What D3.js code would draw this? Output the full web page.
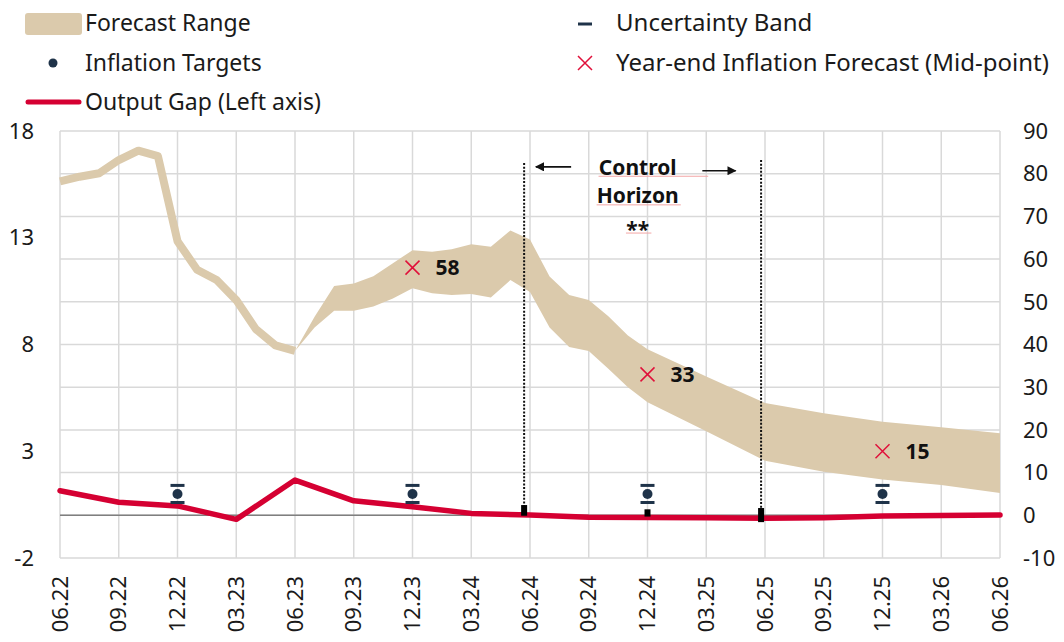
<!DOCTYPE html>
<html lang="en">
<head>
<meta charset="utf-8">
<title>Inflation forecast</title>
<style>
	body { margin: 0; background: #ffffff; }
	svg { display: block; font-family: "Noto Sans", "Open Sans", sans-serif; }
</style>
</head>
<body>
<script src="https://cdn.jsdelivr.net/npm/d3@7"></script>
<script>

	// x positions are months counted from 06.22
	const xTickLabels = ["06.22", "09.22", "12.22", "03.23", "06.23", "09.23", "12.23", "03.24", "06.24",
		"09.24", "12.24", "03.25", "06.25", "09.25", "12.25", "03.26", "06.26"];

	// realised inflation (right axis)
	const actualMonths = [0, 1, 2, 3, 4, 5, 6, 7, 8, 9, 10, 11, 12];
	const actualInflation = [78.2, 79.3, 80.1, 83.2, 85.4, 84.1, 64.2, 57.5, 55.1, 50.4, 43.6, 39.8, 38.5];

	// forecast range (right axis)
	const bandMonths = [12, 13, 14, 15, 16, 17, 18, 19, 20, 21, 22, 23, 24, 25, 26, 27, 28, 29, 30, 33, 36, 39, 42, 45, 48];
	const bandLow = [38.5, 44.0, 47.9, 47.9, 48.9, 50.8, 53.2, 52.0, 51.6, 51.8, 51.0, 55.1, 52.3, 44.0, 39.4, 38.5, 34.3, 30.0, 26.5, 19.7, 12.8, 10.2, 8.4, 7.1, 5.2];
	const bandHigh = [38.5, 46.5, 53.7, 54.3, 56.0, 59.0, 62.1, 61.7, 62.3, 63.5, 62.9, 66.7, 64.6, 55.9, 51.6, 50.4, 46.6, 42.1, 38.9, 32.5, 26.3, 23.9, 21.9, 20.6, 19.2];

	// output gap (left axis)
	const gapMonths = [0, 3, 6, 9, 12, 15, 18, 21, 24, 27, 30, 33, 36, 39, 42, 45, 48];
	const outputGap = [1.15, 0.61, 0.44, -0.19, 1.65, 0.68, 0.40, 0.09, 0.01, -0.09, -0.10, -0.12, -0.14, -0.11, -0.03, -0.01, 0.01];

	// inflation targets with uncertainty band (right axis)
	const targetMonths = [6, 18, 30, 42];
	const targetValue = [5, 5, 5, 5];
	const targetLow = [3, 3, 3, 3];
	const targetHigh = [7, 7, 7, 7];

	// year-end forecast mid-points (right axis)
	const forecastMonths = [18, 30, 42];
	const forecastMid = [58, 33, 15];

	// control horizon lines
	const horizonMonths = [23.7, 35.8];
	const horizonTop = [82.5, 83.2];
	const horizonBottom = [0, -1.5];

	// small black marks near the zero line
	const markMonths = [23.7, 30, 35.8];
	const markLow = [-0.1, -0.3, -1.6];
	const markHigh = [2.4, 1.4, 1.7];

	const leftTicks = [-2, 3, 8, 13, 18];
	const rightTicks = [-10, 0, 10, 20, 30, 40, 50, 60, 70, 80, 90];

	const bandColor = "#dbcaac";
	const redColor = "#d50032";
	const navy = "#1f3349";

	const width = 1064, height = 642;
	const svg = d3.select("body").append("svg")
		.attr("width", width)
		.attr("height", height);

	const x = d3.scaleLinear().domain([0, 48]).range([60, 1000]);
	const yR = d3.scaleLinear().domain([-10, 90]).range([558, 131]);
	const yL = d3.scaleLinear().domain([-2, 18]).range([558, 131]);

	// grid
	const grid = svg.append("g");
	grid.selectAll("line.h").data(rightTicks).join("line")
		.attr("x1", x(0)).attr("x2", x(48))
		.attr("y1", d => yR(d)).attr("y2", d => yR(d))
		.attr("stroke", "#d9d9d9").attr("stroke-width", 1.5);
	grid.selectAll("line.v").data(xTickLabels).join("line")
		.attr("x1", (d, i) => x(i * 3)).attr("x2", (d, i) => x(i * 3))
		.attr("y1", yR(-10)).attr("y2", yR(90))
		.attr("stroke", "#d9d9d9").attr("stroke-width", 1.5);
	grid.append("line")
		.attr("x1", x(0)).attr("x2", x(48))
		.attr("y1", yL(0)).attr("y2", yL(0))
		.attr("stroke", "#7f7f7f").attr("stroke-width", 1.5);

	// axes labels
	svg.append("g").selectAll("text").data(leftTicks).join("text")
		.attr("x", 34).attr("y", d => yL(d)).attr("dy", "0.35em")
		.attr("text-anchor", "end").attr("font-size", 22).attr("fill", "#1a1a1a")
		.text(d => d);
	svg.append("g").selectAll("text").data(rightTicks).join("text")
		.attr("x", 1023).attr("y", d => yR(d)).attr("dy", "0.35em")
		.attr("text-anchor", "start").attr("font-size", 22).attr("fill", "#1a1a1a")
		.text(d => d);
	svg.append("g").selectAll("text").data(xTickLabels).join("text")
		.attr("transform", (d, i) => `translate(${x(i * 3)},576) rotate(-90)`)
		.attr("dy", "0.35em")
		.attr("text-anchor", "end").attr("font-size", 22).attr("fill", "#1a1a1a")
		.text(d => d);

	// forecast band
	const band = bandMonths.map((m, i) => ({ m, lo: bandLow[i], hi: bandHigh[i] }));
	svg.append("path")
		.datum(band)
		.attr("fill", bandColor)
		.attr("d", d3.area().x(d => x(d.m)).y0(d => yR(d.lo)).y1(d => yR(d.hi)));

	const actual = actualMonths.map((m, i) => ({ m, v: actualInflation[i] }));
	svg.append("path")
		.datum(actual)
		.attr("fill", "none")
		.attr("stroke", bandColor)
		.attr("stroke-width", 8)
		.attr("stroke-linejoin", "round")
		.attr("d", d3.line().x(d => x(d.m)).y(d => yR(d.v)));

	// control horizon
	svg.append("g").selectAll("line").data(horizonMonths).join("line")
		.attr("x1", d => x(d)).attr("x2", d => x(d))
		.attr("y1", (d, i) => yR(horizonTop[i])).attr("y2", (d, i) => yR(horizonBottom[i]))
		.attr("stroke", "#111").attr("stroke-width", 2).attr("stroke-dasharray", "2,1.6");

	const defs = svg.append("defs");
	defs.append("marker")
		.attr("id", "arrow")
		.attr("viewBox", "0 0 10 10")
		.attr("refX", 9).attr("refY", 5)
		.attr("markerWidth", 11).attr("markerHeight", 9)
		.attr("markerUnits", "userSpaceOnUse")
		.attr("orient", "auto")
		.append("path").attr("d", "M0,0L10,5L0,10Z").attr("fill", "#111");

	svg.append("line")
		.attr("x1", x(26.1)).attr("x2", x(24.3))
		.attr("y1", yR(81.6)).attr("y2", yR(81.6))
		.attr("stroke", "#111").attr("stroke-width", 1.6).attr("marker-end", "url(#arrow)");
	svg.append("line")
		.attr("x1", x(32.8)).attr("x2", x(34.5))
		.attr("y1", yR(80.7)).attr("y2", yR(80.7))
		.attr("stroke", "#111").attr("stroke-width", 1.6).attr("marker-end", "url(#arrow)");

	const hzText = ["Control", "Horizon", "**"];
	svg.append("g").selectAll("text").data(hzText).join("text")
		.attr("x", x(29.5)).attr("y", (d, i) => yR(79.6) + i * 28 + (i === 2 ? 6 : 0))
		.attr("text-anchor", "middle").attr("font-size", 21).attr("font-weight", 700).attr("fill", "#111")
		.text(d => d);
	// faint spell-check underlines from the original
	const underl = [[27.5, 33.1, 79.4], [27.4, 31.7, 72.7], [28.9, 30.2, 66.1]];
	svg.append("g").selectAll("line").data(underl).join("line")
		.attr("x1", d => x(d[0])).attr("x2", d => x(d[1]))
		.attr("y1", d => yR(d[2])).attr("y2", d => yR(d[2]))
		.attr("stroke", "#f3a7a7").attr("stroke-width", 1);

	// output gap
	const gap = gapMonths.map((m, i) => ({ m, v: outputGap[i] }));
	svg.append("path")
		.datum(gap)
		.attr("fill", "none")
		.attr("stroke", redColor)
		.attr("stroke-width", 5.5)
		.attr("stroke-linejoin", "round")
		.attr("stroke-linecap", "round")
		.attr("d", d3.line().x(d => x(d.m)).y(d => yL(d.v)));

	// black marks
	svg.append("g").selectAll("rect").data(markMonths).join("rect")
		.attr("x", d => x(d) - 3)
		.attr("y", (d, i) => yR(markHigh[i]))
		.attr("width", 6)
		.attr("height", (d, i) => yR(markLow[i]) - yR(markHigh[i]))
		.attr("fill", "#000");

	// targets + uncertainty band
	const tg = svg.append("g").selectAll("g").data(targetMonths).join("g");
	tg.append("line")
		.attr("x1", d => x(d) - 7).attr("x2", d => x(d) + 7)
		.attr("y1", (d, i) => yR(targetHigh[i])).attr("y2", (d, i) => yR(targetHigh[i]))
		.attr("stroke", navy).attr("stroke-width", 3);
	tg.append("line")
		.attr("x1", d => x(d) - 7).attr("x2", d => x(d) + 7)
		.attr("y1", (d, i) => yR(targetLow[i])).attr("y2", (d, i) => yR(targetLow[i]))
		.attr("stroke", navy).attr("stroke-width", 3);
	tg.append("circle")
		.attr("cx", d => x(d)).attr("cy", (d, i) => yR(targetValue[i]))
		.attr("r", 5).attr("fill", navy);

	// forecast mid-points
	const fg = svg.append("g").selectAll("g").data(forecastMonths).join("g")
		.attr("transform", (d, i) => `translate(${x(d)},${yR(forecastMid[i])})`);
	fg.append("path")
		.attr("d", "M-7,-7L7,7M-7,7L7,-7")
		.attr("stroke", "#e0103a").attr("stroke-width", 1.5);
	fg.append("text")
		.attr("x", 23).attr("dy", "0.35em")
		.attr("font-size", 21).attr("font-weight", 700).attr("fill", "#111")
		.text((d, i) => forecastMid[i]);

	// legend
	const lg = svg.append("g").attr("font-size", 23).attr("fill", "#1a1a1a");
	lg.append("rect").attr("x", 25).attr("y", 13).attr("width", 57).attr("height", 22).attr("rx", 3).attr("fill", bandColor);
	lg.append("text").attr("x", 85).attr("y", 31).text("Forecast Range");
	lg.append("circle").attr("cx", 53).attr("cy", 63).attr("r", 4.5).attr("fill", navy);
	lg.append("text").attr("x", 85).attr("y", 71).text("Inflation Targets");
	lg.append("line").attr("x1", 28).attr("x2", 79).attr("y1", 102).attr("y2", 102)
		.attr("stroke", redColor).attr("stroke-width", 5).attr("stroke-linecap", "round");
	lg.append("text").attr("x", 85).attr("y", 110).text("Output Gap (Left axis)");
	lg.append("line").attr("x1", 578).attr("x2", 592).attr("y1", 24).attr("y2", 24)
		.attr("stroke", navy).attr("stroke-width", 3);
	lg.append("text").attr("x", 616).attr("y", 31).attr("font-size", 24).text("Uncertainty Band");
	lg.append("path").attr("d", "M578,56L592,70M578,70L592,56")
		.attr("stroke", "#e0103a").attr("stroke-width", 1.5);
	lg.append("text").attr("x", 616).attr("y", 71).attr("font-size", 24).text("Year-end Inflation Forecast (Mid-point)");

</script>
</body>
</html>
